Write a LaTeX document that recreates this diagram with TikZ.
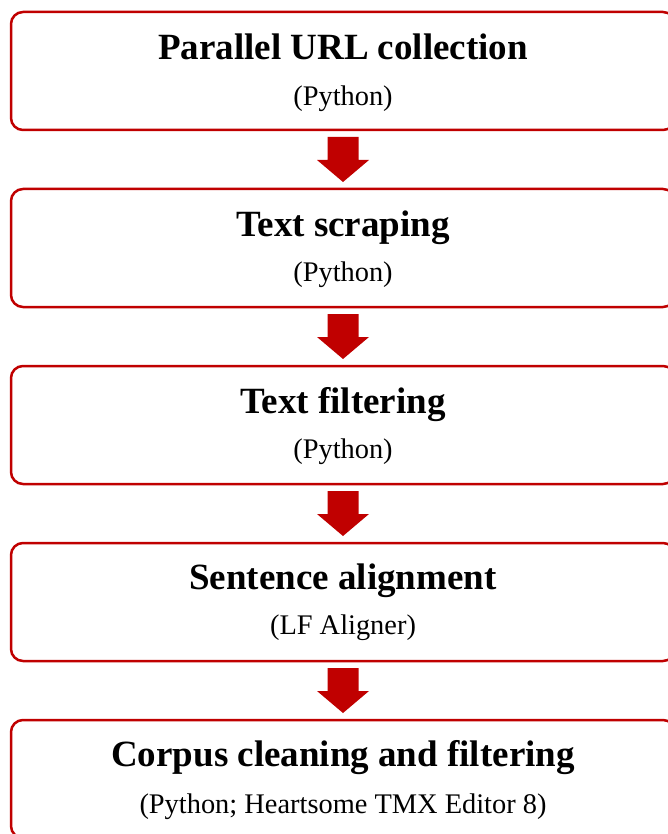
\documentclass[tikz,border=0pt]{standalone}
\usepackage{fontspec}
\setmainfont{Liberation Serif}
\usetikzlibrary{calc}
\definecolor{flowred}{HTML}{C00000}
\tikzset{
  stagebox/.style={draw=flowred, line width=2.5pt, rounded corners=12pt,
    minimum width=664pt, minimum height=118pt, inner sep=0pt, fill=white},
  stagetitle/.style={anchor=base, inner sep=0pt,
    font=\fontsize{37}{40}\selectfont\bfseries},
  stagetool/.style={anchor=base, inner sep=0pt,
    font=\fontsize{28.4}{32}\selectfont},
  % thick downward block arrow, centred on the pic's origin
  flowarrow/.pic={
    \fill[flowred] (-15.5,22.5) -- ++(31,0) -- ++(0,-23) -- ++(10.5,0)
      -- (0,-22.5) -- (-26,-0.5) -- ++(10.5,0) -- cycle;
  }
}
\begin{document}
\begin{tikzpicture}[x=1pt,y=1pt]
  \useasboundingbox[fill=white] (0,0) rectangle (668,-834);

  % stage boxes, top edges at 12, 189, 366, 543, 720
  \node[stagebox] (b1) at (343,-71)  {};
  \node[stagebox] (b2) at (343,-248) {};
  \node[stagebox] (b3) at (343,-425) {};
  \node[stagebox] (b4) at (343,-602) {};
  \node[stagebox] (b5) at (343,-779) {};

  % stage names and tools
  \node[stagetitle] (t1) at ($(b1.north)+(0,-49)$) {Parallel URL collection};
  \node[stagetool]  (s1) at ($(b1.north)+(0,-95)$) {(Python)};
  \node[stagetitle] (t2) at ($(b2.north)+(0,-49)$) {Text scraping};
  \node[stagetool]  (s2) at ($(b2.north)+(0,-94)$) {(Python)};
  \node[stagetitle] (t3) at ($(b3.north)+(0,-49)$) {Text filtering};
  \node[stagetool]  (s3) at ($(b3.north)+(0,-94)$) {(Python)};
  \node[stagetitle] (t4) at ($(b4.north)+(0,-48)$) {Sentence alignment};
  \node[stagetool]  (s4) at ($(b4.north)+(0,-93)$) {(LF Aligner)};
  \node[stagetitle] (t5) at ($(b5.north)+(0,-48)$) {Corpus cleaning and filtering};
  \node[stagetool]  (s5) at ($(b5.north)+(0,-95)$) {(Python; Heartsome TMX Editor 8)};

  % block arrows midway between consecutive stages
  \coordinate (m1) at ($(b1.south)!0.5!(b2.north)$);
  \coordinate (m2) at ($(b2.south)!0.5!(b3.north)$);
  \coordinate (m3) at ($(b3.south)!0.5!(b4.north)$);
  \coordinate (m4) at ($(b4.south)!0.5!(b5.north)$);
  \pic at (m1) {flowarrow};
  \pic at (m2) {flowarrow};
  \pic at (m3) {flowarrow};
  \pic at (m4) {flowarrow};
\end{tikzpicture}
\end{document}
